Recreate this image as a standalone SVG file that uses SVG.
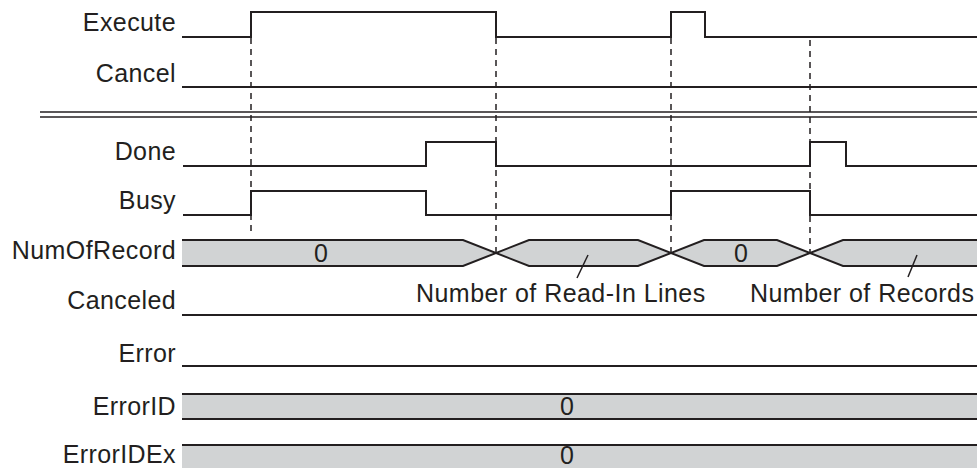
<svg xmlns="http://www.w3.org/2000/svg" width="980" height="468" viewBox="0 0 980 468">
<style>
.lbl{font-family:"Liberation Sans",Arial,sans-serif;font-size:25px;fill:#231f20;text-anchor:end;letter-spacing:0.4px}
.val{font-family:"Liberation Sans",Arial,sans-serif;font-size:25px;fill:#231f20;text-anchor:middle}
.note{font-family:"Liberation Sans",Arial,sans-serif;font-size:25px;fill:#231f20;letter-spacing:0.45px}
.sig{fill:none;stroke:#231f20;stroke-width:2}
.band{fill:#d1d3d4;stroke:none}
.edge{fill:none;stroke:#231f20;stroke-width:2}
.dash{fill:none;stroke:#231f20;stroke-width:1.5;stroke-dasharray:6 5}
.thin{fill:none;stroke:#231f20;stroke-width:1.5}
</style>
<rect width="980" height="468" fill="#ffffff"/>
<g id="separator">
<line class="thin" x1="40" y1="112" x2="977" y2="112"/>
<line class="thin" x1="40" y1="117" x2="977" y2="117"/>
</g>
<g id="Execute">
<text class="lbl" x="176" y="31">Execute</text>
<polyline class="sig" points="182,37 251,37 251,12 496,12 496,37 671,37 671,12 705,12 705,37 977,37"/>
</g>
<g id="Cancel">
<text class="lbl" x="176" y="82">Cancel</text>
<line class="sig" x1="182" y1="87" x2="977" y2="87"/>
</g>
<g id="Done">
<text class="lbl" x="176" y="160">Done</text>
<polyline class="sig" points="183,166 426,166 426,142 496,142 496,166 810,166 810,142 846,142 846,166 977,166"/>
</g>
<g id="Busy">
<text class="lbl" x="176" y="209">Busy</text>
<polyline class="sig" points="183,215 251,215 251,191 426,191 426,215 671,215 671,191 810,191 810,215 977,215"/>
</g>
<g id="NumOfRecord">
<text class="lbl" x="176" y="259">NumOfRecord</text>
<polygon class="band" points="182,240 463,240 496,253 463,266 182,266"/>
<polygon class="band" points="496,253 529,240 638,240 671,253 638,266 529,266"/>
<polygon class="band" points="671,253 704,240 777,240 810,253 777,266 704,266"/>
<polygon class="band" points="810,253 843,240 977,240 977,266 843,266"/>
<polyline class="edge" points="182,240 463,240 529,266 638,266 704,240 777,240 843,266 977,266"/>
<polyline class="edge" points="182,266 463,266 529,240 638,240 704,266 777,266 843,240 977,240"/>
<text class="val" x="321" y="262">0</text>
<text class="val" x="741" y="262">0</text>
<line class="thin" x1="588" y1="255" x2="577" y2="278"/>
<line class="thin" x1="917" y1="255" x2="908" y2="277"/>
<text class="note" x="416" y="302">Number of Read-In Lines</text>
<text class="note" x="750" y="302">Number of Records</text>
</g>
<g id="Canceled">
<text class="lbl" x="176" y="309">Canceled</text>
<line class="sig" x1="182" y1="315" x2="977" y2="315"/>
</g>
<g id="Error">
<text class="lbl" x="176" y="362">Error</text>
<line class="sig" x1="182" y1="366" x2="977" y2="366"/>
</g>
<g id="ErrorID">
<text class="lbl" x="176" y="415">ErrorID</text>
<rect class="band" x="182" y="394" width="795" height="25"/>
<line class="edge" x1="182" y1="394" x2="977" y2="394"/>
<line class="edge" x1="182" y1="419" x2="977" y2="419"/>
<text class="val" x="567" y="415">0</text>
</g>
<g id="ErrorIDEx">
<text class="lbl" x="176" y="463">ErrorIDEx</text>
<rect class="band" x="182" y="445" width="795" height="25"/>
<line class="edge" x1="182" y1="445" x2="977" y2="445"/>
<text class="val" x="567" y="464">0</text>
</g>
<g id="connectors">
<line class="dash" x1="251" y1="38" x2="251" y2="236"/>
<line class="dash" x1="496" y1="38" x2="496" y2="252"/>
<line class="dash" x1="671" y1="38" x2="671" y2="252"/>
<line class="dash" x1="810" y1="40" x2="810" y2="252"/>
</g>
</svg>
